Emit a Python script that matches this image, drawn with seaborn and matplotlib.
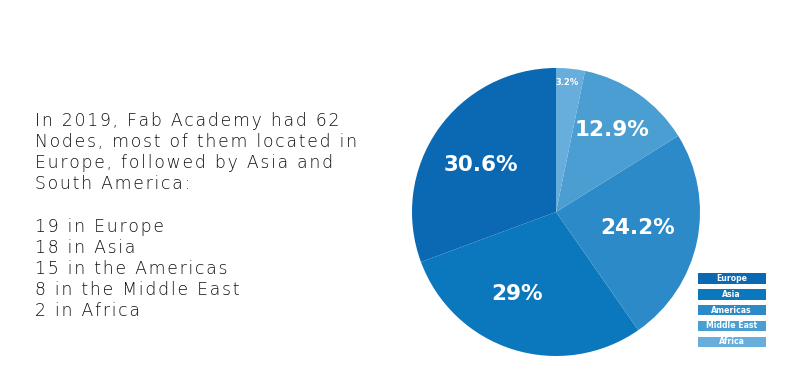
import matplotlib
matplotlib.use("Agg")
import matplotlib.pyplot as plt
import seaborn as sns
import numpy as np
from matplotlib.patches import Rectangle

sns.set_theme(style="white")
plt.rcParams['font.family'] = ['DejaVu Sans']

regions = ["Europe", "Asia", "Americas", "Middle East", "Africa"]
nodes = [19, 18, 15, 8, 2]
pct_labels = ["30.6%", "29%", "24.2%", "12.9%", "3.2%"]
colors = ["#0a69b2", "#0b77bc", "#2b8ac7", "#4a9ed2", "#67aedc"]

intro_lines = ["In 2019, Fab Academy had 62",
               "Nodes, most of them located in",
               "Europe, followed by Asia and",
               "South America:",
               "",
               "19 in Europe",
               "18 in Asia",
               "15 in the Americas",
               "8 in the Middle East",
               "2 in Africa"]

W, H = 809, 390
fig = plt.figure(figsize=(W / 100, H / 100), dpi=100)
fig.patch.set_facecolor("white")

# Pie
cx, cy, r = 556, 212, 144
ax = fig.add_axes([(cx - r) / W, (H - cy - r) / H, 2 * r / W, 2 * r / H])
wedges, _ = ax.pie(nodes, colors=colors, startangle=90, counterclock=True,
                   wedgeprops=dict(linewidth=0))
ax.set_xlim(-1, 1)
ax.set_ylim(-1, 1)
ax.set_aspect("equal")
ax.axis("off")

dists = [0.615, 0.63, 0.58, 0.69, 0.905]
ang_off = [2.8, -7.9, 0.8, 0.6, 1.0]
sizes = [15.5, 15.5, 15.5, 15.5, 6]
for w, lab, d, o, s in zip(wedges, pct_labels, dists, ang_off, sizes):
    ang = np.deg2rad((w.theta1 + w.theta2) / 2 + o)
    ax.text(d * np.cos(ang), d * np.sin(ang), lab, ha="center", va="center",
            color="white", fontsize=s, fontweight="bold", family="DejaVu Sans")

# Legend boxes
box_x0, box_w, box_h = 697.5, 68.5, 10.5
box_y0, step = 273.3, 15.8
for i, (reg, c) in enumerate(zip(regions, colors)):
    y_top = box_y0 + i * step
    fig.patches.append(Rectangle((box_x0 / W, 1 - (y_top + box_h) / H), box_w / W, box_h / H,
                                 transform=fig.transFigure, facecolor=c, edgecolor="none"))
    fig.text((box_x0 + box_w / 2) / W, 1 - (y_top + box_h / 2) / H, reg,
             ha="center", va="center", color="white", fontsize=5.6, fontweight="bold",
             family="DejaVu Sans")

# Left text with letter spacing
hs = "\u200a"
for i, line in enumerate(intro_lines):
    if not line:
        continue
    spaced = hs.join(list(line))
    fig.text(35 / W, 1 - (121 + i * 21.1) / H, spaced, ha="left", va="center",
             fontsize=12.4, color="#111111", fontweight="light", family="DejaVu Sans")

fig.savefig("out.png", dpi=100, facecolor="white")
